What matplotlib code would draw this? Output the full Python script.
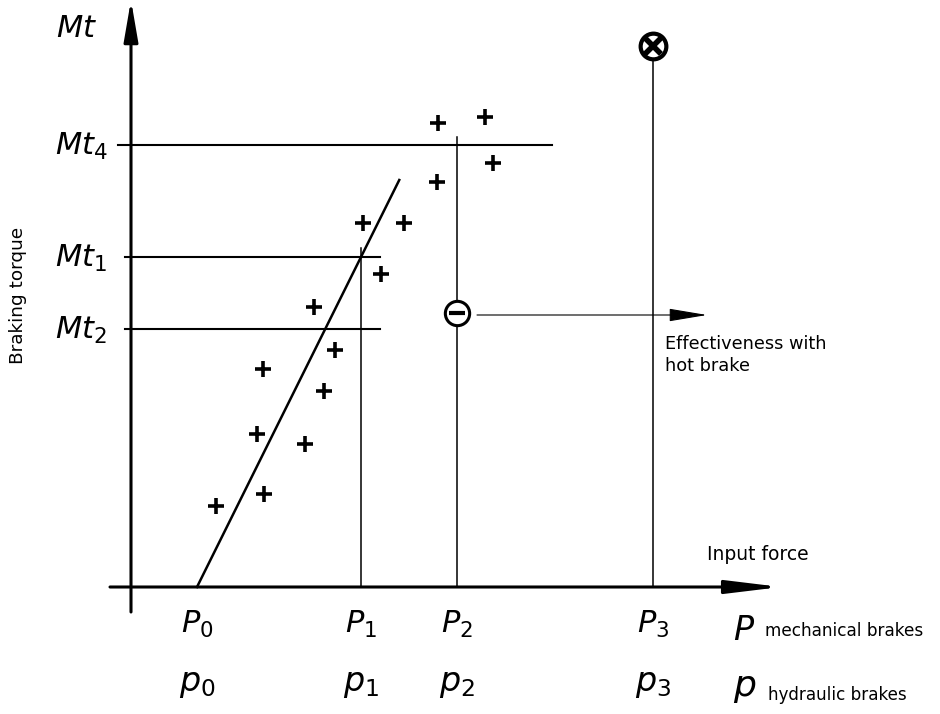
import matplotlib
matplotlib.use("Agg")
import matplotlib.pyplot as plt

# Input force levels P0..P3 (same positions for mechanical P and hydraulic p)
force_levels = [6.6, 23.0, 32.6, 52.2]
mech_labels = [r"$P_0$", r"$P_1$", r"$P_2$", r"$P_3$"]
hyd_labels = [r"$p_0$", r"$p_1$", r"$p_2$", r"$p_3$"]

# Braking torque levels
torque_levels = [44.2, 33.0, 25.8]
torque_labels = [r"$Mt_4$", r"$Mt_1$", r"$Mt_2$"]

# Measured points (+)
meas_force = [23.2, 27.3, 25.0, 18.3, 20.4, 13.2, 19.3, 12.6, 17.4, 13.3, 8.5,
              30.7, 35.4, 36.2, 30.6]
meas_torque = [36.4, 36.4, 31.3, 28.0, 23.7, 21.8, 19.6, 15.3, 14.3, 9.3, 8.1,
               46.4, 47.0, 42.4, 40.5]

# hot brake point and max point
hot_torque = 27.4
max_torque = 54.1

# slope of the fitted line, through P0 and (P1, Mt1)
slope = torque_levels[1] / (force_levels[1] - force_levels[0])
line_top = 40.7

fig = plt.figure(figsize=(9.4, 7.14), dpi=100)
ax = fig.add_axes([0, 0, 1, 1])
ax.set_xlim(-13.1, 80.9)
ax.set_ylim(-12.7, 58.7)
ax.axis("off")

# axes with arrows
ax.annotate("", xy=(0, 58.7), xytext=(0, -2.5),
            arrowprops=dict(arrowstyle="-|>,head_length=2.5,head_width=0.43",
                            lw=2.2, color="black", shrinkA=0, shrinkB=0,
                            mutation_scale=10))
ax.annotate("", xy=(65.0, 0), xytext=(-2.1, 0),
            arrowprops=dict(arrowstyle="-|>,head_length=3.3,head_width=0.4",
                            lw=2.2, color="black", shrinkA=0, shrinkB=0,
                            mutation_scale=10))

# horizontal torque reference lines
ax.plot([-1.3, 42.1], [torque_levels[0]] * 2, color="black", lw=1.5)
ax.plot([-0.6, 24.9], [torque_levels[1]] * 2, color="black", lw=1.5)
ax.plot([-0.6, 24.9], [torque_levels[2]] * 2, color="black", lw=1.5)

# vertical force lines
ax.plot([force_levels[1]] * 2, [0, 33.9], color="black", lw=1.1)
ax.plot([force_levels[2]] * 2, [0, 45.0], color="black", lw=1.1)
ax.plot([force_levels[3]] * 2, [0, max_torque], color="black", lw=1.1)

# fitted line
ax.plot([force_levels[0], force_levels[0] + line_top / slope], [0, line_top],
        color="black", lw=1.8)

# measured points
ax.plot(meas_force, meas_torque, linestyle="none", marker="+", color="black",
        markersize=11, markeredgewidth=2.6)

# hot brake circle and arrow
ax.annotate("", xy=(57.6, hot_torque - 0.2), xytext=(34.6, hot_torque - 0.2),
            arrowprops=dict(arrowstyle="-|>,head_length=2.4,head_width=0.4",
                            lw=0.8, color="black", shrinkA=0, shrinkB=0,
                            mutation_scale=10))
ax.plot(force_levels[2], hot_torque, marker="o", markersize=17.5,
        markerfacecolor="white", markeredgecolor="black", markeredgewidth=2.2,
        zorder=5)
ax.plot(force_levels[2], hot_torque, marker="_", markersize=11,
        markeredgewidth=3, color="black", zorder=6)

# max point circle with cross
ax.plot(force_levels[3], max_torque, marker="o", markersize=18.5,
        markerfacecolor="white", markeredgecolor="black", markeredgewidth=3,
        zorder=5)
ax.plot(force_levels[3], max_torque, marker="x", markersize=11,
        markeredgewidth=4, color="black", zorder=6)

# labels
big = 22
ax.text(-7.5, 55.0, r"$Mt$", fontsize=big, ha="left", va="baseline")
for lev, lab in zip(torque_levels, torque_labels):
    ax.text(-7.6, lev - 1.0, lab, fontsize=big, ha="left", va="baseline")

for lev, lab in zip(force_levels, mech_labels):
    ax.text(lev, -4.6, lab, fontsize=big, ha="center", va="baseline")
for lev, lab in zip(force_levels, hyd_labels):
    ax.text(lev, -10.4, lab, fontsize=24, ha="center", va="baseline")

ax.text(60.2, -5.3, r"$P$", fontsize=24, ha="left", va="baseline")
ax.text(60.2, -10.9, r"$p$", fontsize=26, ha="left", va="baseline")

ax.text(63.4, -4.9, "mechanical brakes", fontsize=12.2, ha="left", va="baseline")
ax.text(63.7, -11.3, "hydraulic brakes", fontsize=12.1, ha="left", va="baseline")
ax.text(57.6, 3.2, "Input force", fontsize=13.5, ha="left", va="center")
ax.text(53.4, 25.2, "Effectiveness with\nhot brake", fontsize=12.8,
        ha="left", va="top", linespacing=1.3)
ax.text(-11.3, 29.2, "Braking torque", fontsize=13.3, rotation=90,
        ha="center", va="center")

fig.savefig("out.png", dpi=100)
